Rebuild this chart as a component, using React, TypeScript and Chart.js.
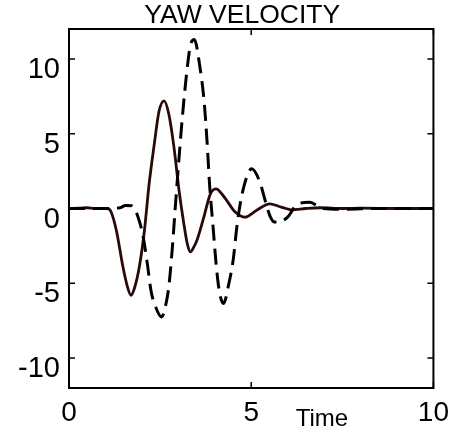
import React, { useEffect, useRef } from "react";
import { Chart, registerables } from "chart.js";

Chart.register(...registerables);

// Yaw velocity response, solid trace
const timeSolid = [
  0, 0.3, 0.5, 0.7, 0.9, 1.05, 1.15, 1.3, 1.48, 1.6, 1.7, 1.8, 1.93, 2.07, 2.2,
  2.34, 2.47, 2.61, 2.74, 2.88, 3.02, 3.15, 3.25, 3.33, 3.42, 3.51, 3.7, 3.88,
  4.04, 4.2, 4.33, 4.56, 4.83, 5.14, 5.51, 5.75, 5.96, 6.1, 6.5, 6.9, 7.5, 8.0,
  9.0, 10,
];
const yawSolid = [
  0, 0.02, 0.05, 0, 0, 0, -0.2, -1.47, -3.9, -5.2, -5.8, -5.3, -3.9, -1.47, 1.67,
  4.3, 6.5, 7.2, 6.3, 4.1, 1.2, -1.0, -2.4, -2.9, -2.6, -2.13, -0.58, 0.98,
  1.31, 0.95, 0.53, -0.24, -0.58, -0.13, 0.31, 0.15, 0, -0.09, 0, 0.05, 0, 0.02,
  0, 0,
];

// Yaw velocity response, dashed trace
const timeDashed = [
  0, 1.0, 1.4, 1.55, 1.72, 1.8, 1.88, 2.02, 2.15, 2.25, 2.38, 2.54, 2.65, 2.74,
  2.83, 2.93, 3.02, 3.11, 3.24, 3.33, 3.44, 3.59, 3.71, 3.79, 3.86, 3.95, 4.04,
  4.13, 4.24, 4.38, 4.51, 4.6, 4.69, 4.83, 5.01, 5.24, 5.37, 5.51, 5.64, 5.73,
  6.0, 6.23, 6.6, 6.96, 7.5, 8.5, 10,
];
const yawDashed = [
  0, 0, 0.05, 0.2, 0.18, -0.05, -0.47, -1.7, -3.7, -5.5, -6.6, -7.25, -6.5, -5.2,
  -2.8, 0.53, 3.4, 6.1, 9.3, 10.9, 11.3, 9.5, 7.1, 4.4, 1.5, -1.13, -3.8,
  -5.6, -6.35, -5.1, -3.35, -1.35, 0.2, 1.75, 2.65, 1.75, 0.64, -0.47, -0.9, -0.9,
  -0.58, 0.2, 0.42, 0, -0.05, 0, 0,
];

const xTickValues = [0, 5, 10];
const yTickValues = [-10, -5, 0, 5, 10];
const chartTitle = "YAW VELOCITY";
const xAxisTitle = "Time";

const FONT = "Arial, 'Liberation Sans', Helvetica, sans-serif";

// Boxed axes with inward tick marks on all four sides, plus the titles
const framePlugin = {
  id: "boxFrame",
  afterDatasetsDraw(chart: any) {
    const { ctx, chartArea: a, scales } = chart;
    const xs = scales.x;
    const ys = scales.y;
    ctx.save();
    ctx.strokeStyle = "#000";
    ctx.lineWidth = 2;
    ctx.strokeRect(a.left, a.top, a.right - a.left, a.bottom - a.top);

    const len = 6;
    ctx.lineWidth = 1.5;
    ctx.beginPath();
    for (const t of ys.ticks) {
      const y = ys.getPixelForValue(t.value);
      ctx.moveTo(a.left, y);
      ctx.lineTo(a.left + len, y);
      ctx.moveTo(a.right, y);
      ctx.lineTo(a.right - len, y);
    }
    for (const t of xs.ticks) {
      const x = xs.getPixelForValue(t.value);
      ctx.moveTo(x, a.bottom);
      ctx.lineTo(x, a.bottom - len);
      ctx.moveTo(x, a.top);
      ctx.lineTo(x, a.top + len);
    }
    ctx.stroke();

    ctx.fillStyle = "#000";
    ctx.textBaseline = "alphabetic";
    ctx.font = `26.5px ${FONT}`;
    ctx.textAlign = "center";
    ctx.fillText(chartTitle, (a.left + a.right) / 2 - 9, a.top - 6);

    ctx.font = `24px ${FONT}`;
    ctx.textAlign = "left";
    ctx.fillText(xAxisTitle, xs.getPixelForValue(6.22), a.bottom + 38);
    ctx.restore();
  },
};

export default function App() {
  const canvasRef = useRef<HTMLCanvasElement | null>(null);

  useEffect(() => {
    const canvas = canvasRef.current;
    if (!canvas) return;

    const chart = new Chart(canvas, {
      type: "line",
      data: {
        datasets: [
          {
            label: "dashed",
            data: timeDashed.map((t, i) => ({ x: t, y: yawDashed[i] })),
            borderColor: "#000000",
            borderWidth: 3,
            borderDash: [16, 8],
            pointRadius: 0,
            fill: false,
            cubicInterpolationMode: "monotone",
          },
          {
            label: "solid",
            data: timeSolid.map((t, i) => ({ x: t, y: yawSolid[i] })),
            borderColor: "#2a0a08",
            borderWidth: 2.8,
            pointRadius: 0,
            fill: false,
            cubicInterpolationMode: "monotone",
          },
        ],
      },
      options: {
        animation: false,
        responsive: false,
        parsing: false as any,
        layout: { padding: { top: 29, right: 20, left: 0, bottom: 0 } },
        plugins: {
          legend: { display: false },
          title: { display: false },
          tooltip: { enabled: false },
        },
        scales: {
          x: {
            type: "linear",
            min: 0,
            max: 10,
            grid: { display: false, drawTicks: false },
            border: { display: false },
            afterBuildTicks: (s: any) => {
              s.ticks = xTickValues.map((v) => ({ value: v }));
            },
            afterFit: (s: any) => {
              s.height = 45;
            },
            ticks: {
              autoSkip: false,
              maxRotation: 0,
              padding: 8,
              color: "#000",
              font: { family: FONT, size: 28 },
            },
          },
          y: {
            type: "linear",
            min: -12,
            max: 12,
            grid: { display: false, drawTicks: false },
            border: { display: false },
            afterBuildTicks: (s: any) => {
              s.ticks = yTickValues.map((v) => ({ value: v }));
            },
            afterFit: (s: any) => {
              s.width = 69;
            },
            ticks: {
              autoSkip: false,
              padding: 9,
              labelOffset: 11,
              color: "#000",
              font: { family: FONT, size: 29 },
            },
          },
        },
      },
      plugins: [framePlugin],
    });

    return () => chart.destroy();
  }, []);

  return (
    <div style={{ position: "fixed", left: 0, top: 0, width: 457, height: 433, background: "#fff" }}>
      <canvas ref={canvasRef} width={457} height={433} style={{ display: "block" }} />
    </div>
  );
}
